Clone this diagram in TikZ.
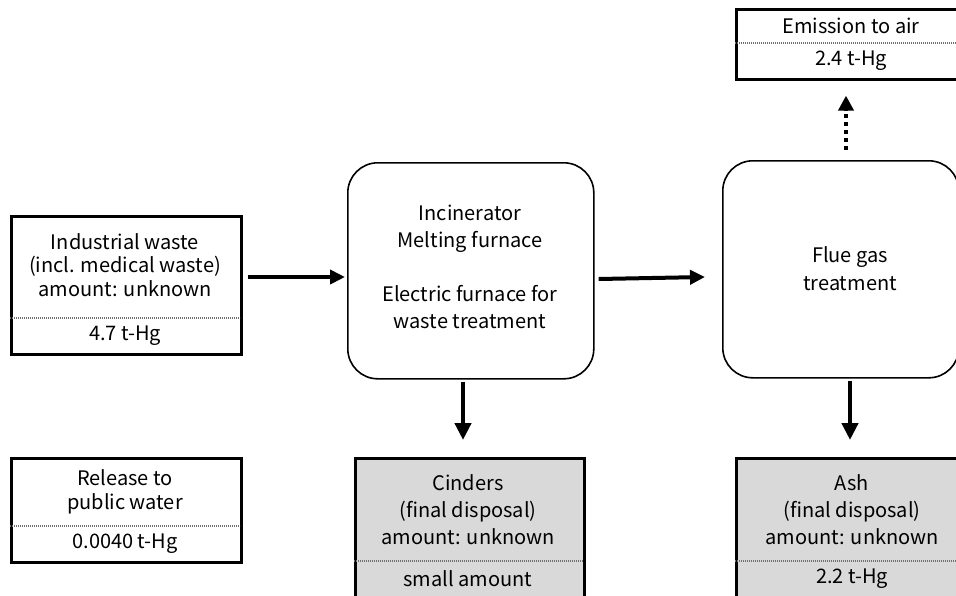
\documentclass[tikz,border=0pt]{standalone}
\usepackage{fontspec}
\setmainfont{Noto Sans CJK JP}
\usetikzlibrary{arrows.meta}
\definecolor{boxgray}{HTML}{D9D9D9}
\definecolor{sepgray}{HTML}{6E6E6E}
\begin{document}
\begin{tikzpicture}[x=1pt,y=-1pt,
  sqbox/.style={draw=black, line width=2.6pt, fill=white, inner sep=0pt, anchor=north west},
  graybox/.style={sqbox, fill=boxgray},
  rbox/.style={draw=black, line width=1.6pt, rounded corners=30pt, fill=white, inner sep=0pt, anchor=north west},
  sepline/.style={draw=sepgray, line width=2.6pt, dash pattern=on 1.2pt off 0.8pt},
  txt/.style={align=center, inner sep=0pt, font=\fontsize{20}{23.5}\selectfont},
  arr/.style={line width=4pt, -{Triangle[length=15pt,width=14pt]}},
  darr/.style={line width=4.5pt, -{Triangle[length=17pt,width=16pt]}},
  dotarr/.style={line width=4pt, dash pattern=on 4pt off 4pt, -{Triangle[length=15pt,width=15pt]}}
]
\useasboundingbox (0,0) rectangle (956,595);
\clip (0,0) rectangle (956,595);
\fill[white] (0,0) rectangle (956,595);

% boxes
\node[sqbox, minimum width=230pt, minimum height=138pt] (ind) at (10,215) {};
\node[sqbox, minimum width=230pt, minimum height=104pt] (rel) at (10,457) {};
\node[rbox, minimum width=246pt, minimum height=216pt] (inc) at (347,162) {};
\node[rbox, minimum width=236pt, minimum height=217pt] (flue) at (722,160) {};
\node[sqbox, minimum width=232pt, minimum height=70pt] (emi) at (735,8) {};
\node[graybox, minimum width=229pt, minimum height=150pt] (cin) at (354,457) {};
\node[graybox, minimum width=232pt, minimum height=150pt] (ash) at (735,457) {};

% separators
\coordinate (indL) at (10,318); \coordinate (indR) at (240,318);
\draw[sepline] (indL) -- (indR);
\coordinate (relL) at (10,526); \coordinate (relR) at (240,526);
\draw[sepline] (relL) -- (relR);
\coordinate (emiL) at (735,43); \coordinate (emiR) at (967,43);
\draw[sepline] (emiL) -- (emiR);
\coordinate (cinL) at (354,561); \coordinate (cinR) at (583,561);
\draw[sepline] (cinL) -- (cinR);
\coordinate (ashL) at (735,561); \coordinate (ashR) at (967,561);
\draw[sepline] (ashL) -- (ashR);

% texts
\node[txt] (indT) at (125,265) {Industrial waste\\(incl. medical waste)\\amount: unknown};
\node[txt] (indV) at (125,336) {4.7 t-Hg};
\node[txt] (relT) at (125,492) {Release to\\public water};
\node[txt] (relV) at (125,544) {0.0040 t-Hg};
\node[txt, font=\fontsize{20}{27}\selectfont] (incT) at (470,267) {Incinerator\\Melting furnace\\[27pt]Electric furnace for\\waste treatment};
\node[txt, font=\fontsize{20}{28}\selectfont] (flueT) at (850,269) {Flue gas\\treatment};
\node[txt] (emiT) at (851,26) {Emission to air};
\node[txt] (emiV) at (851,61) {2.4 t-Hg};
\node[txt, font=\fontsize{20}{27}\selectfont] (cinT) at (468,510) {Cinders\\(final disposal)\\amount: unknown};
\node[txt] (cinV) at (468,579) {small amount};
\node[txt, font=\fontsize{20}{27}\selectfont] (ashT) at (852,510) {Ash\\(final disposal)\\amount: unknown};
\node[txt] (ashV) at (852,579) {2.2 t-Hg};

% connectors
\draw[arr] ([xshift=5pt]ind.east |- 0,277) -- ([xshift=-2pt]inc.west |- 0,277);
\draw[arr] ([xshift=4pt]inc.east |- 0,279) -- ([xshift=-17pt]flue.west |- 0,277);
\draw[darr] ([yshift=-2pt]inc.south -| 463,0) -- ([yshift=17pt]cin.north -| 463,0);
\draw[darr] ([yshift=-2pt]flue.south -| 850,0) -- ([yshift=17pt]ash.north -| 850,0);
\draw[dotarr] ([yshift=10pt]flue.north -| 846,0) -- ([yshift=-15pt]emi.south -| 846,0);
\end{tikzpicture}
\end{document}
